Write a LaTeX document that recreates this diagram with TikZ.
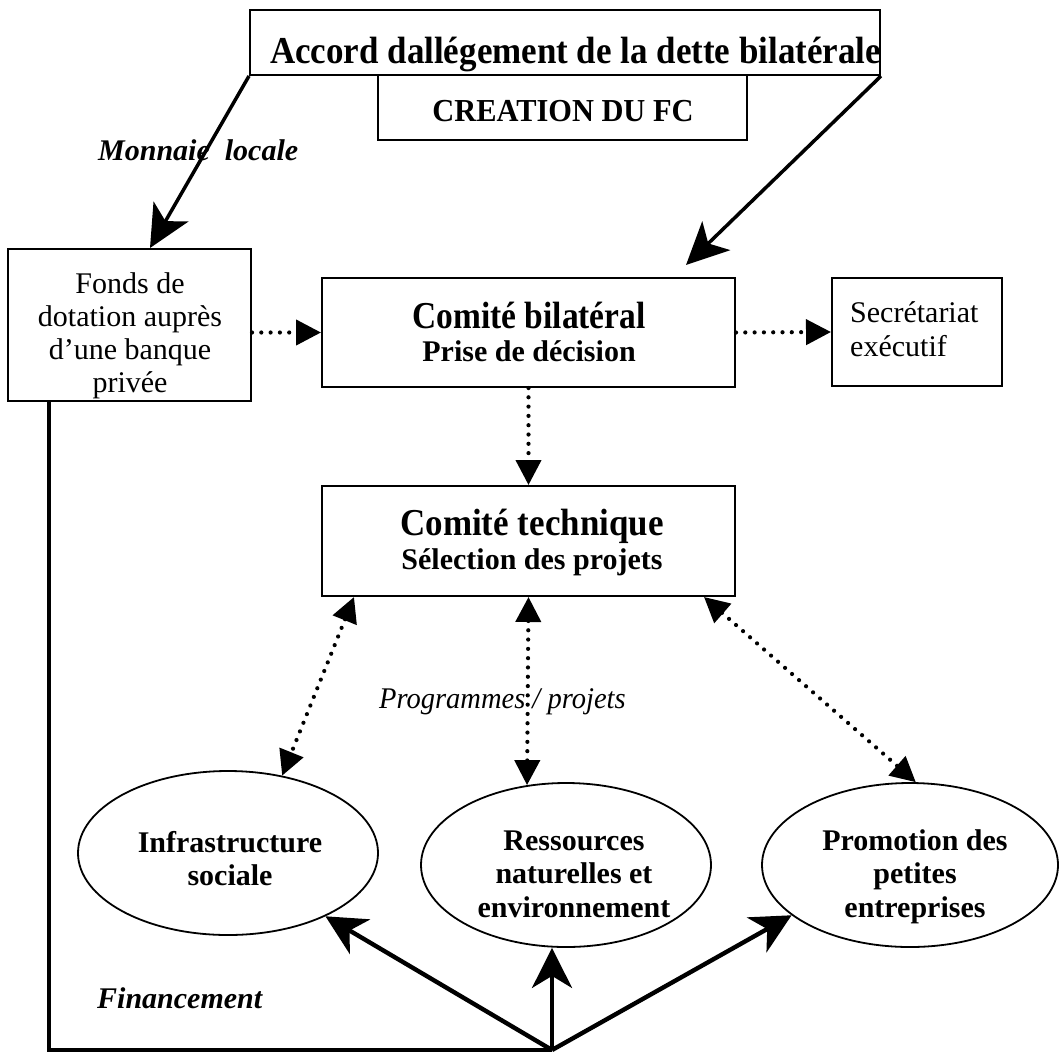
\documentclass[tikz,border=0pt]{standalone}
\usepackage{fontspec}
\setmainfont{Liberation Serif}
\usetikzlibrary{arrows.meta,shapes.geometric,calc}
\begin{document}
\begin{tikzpicture}[x=1pt,y=-1pt,
  box/.style={draw,line width=2pt,rectangle,inner sep=0pt},
  ell/.style={draw,line width=1.8pt,ellipse,inner sep=0pt},
  txt/.style={inner sep=0pt,anchor=base,font=\fontsize{30}{33}\selectfont},
  btxt/.style={txt,font=\fontsize{30}{33}\selectfont\bfseries},
  bigtxt/.style={txt,font=\fontsize{38}{40}\selectfont\bfseries},
  lbl/.style={inner sep=0pt,anchor=base west,font=\fontsize{30}{33}\selectfont\bfseries\itshape},
  toparrow/.style={line width=3.5pt,-{Stealth[length=42pt,width=40pt,inset=11pt]}},
  finline/.style={line width=4.4pt,line join=miter},
  finarrow/.style={line width=4.4pt,-{Stealth[length=40pt,width=40pt,inset=12pt]}},
  dotline/.style={line width=4.2pt,dash pattern=on 0pt off 9.3pt,line cap=round},
  dotarrow/.style={dotline,-{Triangle[length=25pt,width=25pt]}},
  dotboth/.style={dotline,{Triangle[length=25pt,width=25pt]}-{Triangle[length=25pt,width=25pt]}}
]
\useasboundingbox (0,0) rectangle (1059,1055);

% top boxes
\node[box,minimum width=630pt,minimum height=65pt] (top) at (565,42.5) {};
\node[txt,font=\fontsize{38}{40}\selectfont\bfseries] (toptxt) at (575.5,63) {\scalebox{0.92}[1]{Accord dallégement de la dette bilatérale}};
\node[box,minimum width=369pt,minimum height=65pt] (fc) at (562.5,107.5) {};
\node[txt,font=\fontsize{32}{34}\selectfont\bfseries] (fctxt) at (563,121) {\scalebox{0.95}[1]{CREATION DU FC}};

% fonds
\node[box,minimum width=243pt,minimum height=152pt] (fonds) at (129.5,325) {};
\node[txt] (f1) at (130,293) {Fonds de};
\node[txt] (f2) at (130,326) {dotation auprès};
\node[txt] (f3) at (130,359) {d’une banque};
\node[txt] (f4) at (130,392) {privée};

% comite bilateral
\node[box,minimum width=413pt,minimum height=109pt] (cb) at (528.5,332.5) {};
\node[bigtxt] (cb1) at (529,328) {\scalebox{0.88}[1]{Comité bilatéral}};
\node[btxt] (cb2) at (529,361) {Prise de décision};

% secretariat
\node[box,minimum width=170pt,minimum height=108pt] (sec) at (917,332) {};
\node[txt,anchor=base west] (s1) at (850,322) {Secrétariat};
\node[txt,anchor=base west] (s2) at (850,356) {exécutif};

% comite technique
\node[box,minimum width=413pt,minimum height=110pt] (ct) at (528.5,541) {};
\node[bigtxt] (ct1) at (532,535) {\scalebox{0.92}[1]{Comité technique}};
\node[btxt] (ct2) at (532,569) {Sélection des projets};

% ellipses
\node[ell,minimum width=300pt,minimum height=164pt] (e1) at (228,853) {};
\node[btxt] (e1a) at (230,852) {Infrastructure};
\node[btxt] (e1b) at (230,885) {sociale};
\node[ell,minimum width=290pt,minimum height=164pt] (e2) at (566,865) {};
\node[btxt] (e2a) at (574,850) {Ressources};
\node[btxt] (e2b) at (574,883) {naturelles et};
\node[btxt] (e2c) at (574,917) {environnement};
\node[ell,minimum width=296pt,minimum height=164pt] (e3) at (910,865) {};
\node[btxt] (e3a) at (915,850) {Promotion des};
\node[btxt] (e3b) at (915,883) {petites};
\node[btxt] (e3c) at (915,917) {entreprises};

% labels
\node[lbl] (monnaie) at (98,160) {Monnaie\ \ locale};
\node[lbl] (fin) at (97,1008) {Financement};
\node[inner sep=0pt,anchor=base west,font=\fontsize{30}{33}\selectfont\itshape] (prog) at (379,708) {\scalebox{0.95}[1]{Programmes / projets}};

% solid arrows from top
\draw[toparrow] (top.south west) -- ([xshift=143pt]fonds.north west);
\draw[toparrow] (top.south east) -- ([xshift=365pt,yshift=12pt]cb.north west);

% dotted arrows
\draw[dotarrow] (cb.west -| fonds.east) -- (cb.west);
\draw[dotarrow] (cb.east) -- (sec.west);
\draw[dotarrow] (cb.south) -- (ct.north);
\draw[dotboth] ([xshift=33pt]ct.south west) -- (e1.55);
\draw[dotboth] (ct.south) -- (e2.116);
\draw[dotboth] ([xshift=-32pt]ct.south east) -- (e3.86);

% financing
\coordinate (apex) at (552,1050);
\draw[finline] ([xshift=42pt]fonds.south west) |- (apex);
\draw[finarrow] (apex) -- (e1.-33);
\draw[finarrow] (apex) -- (apex |- e2.south);
\draw[finarrow] (apex) -- (e3.203);
\end{tikzpicture}
\end{document}
